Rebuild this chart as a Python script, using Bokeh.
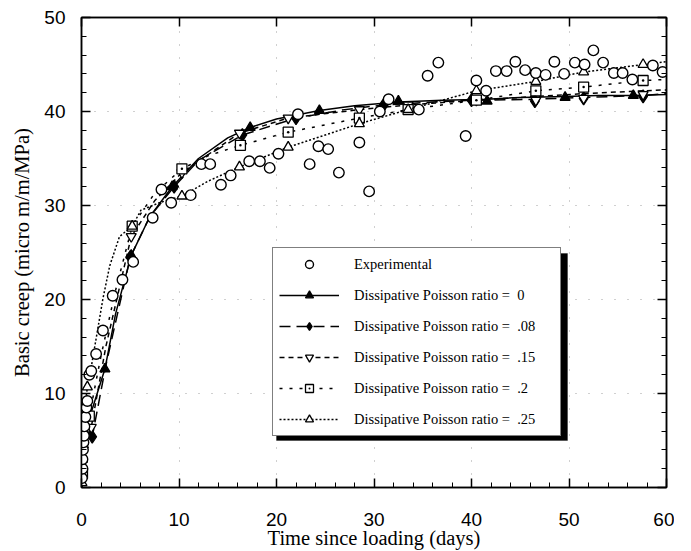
from bokeh.plotting import figure
from bokeh.models import (Legend, LegendItem, LinearAxis, SingleIntervalTicker, Range1d,
                          BoxAnnotation, CustomJSTickFormatter)
from bokeh.embed import file_html
from bokeh.resources import INLINE

# Experimental data
t_exp = [0.05, 0.1, 0.1, 0.15, 0.2, 0.25, 0.3, 0.4, 0.5, 0.6, 0.8, 1.0, 1.5, 2.2, 3.2, 4.2, 5.3, 7.3,
         8.2, 9.2, 11.2, 12.3, 13.2, 14.3, 15.3, 17.2, 18.3, 19.3, 20.2, 22.2, 23.4, 24.3, 25.3, 26.4,
         28.5, 29.5, 30.6, 31.5, 34.6, 35.5, 36.6, 39.4, 40.5, 41.5, 42.5, 43.6, 44.5, 45.5, 46.6,
         47.6, 48.5, 49.5, 50.6, 51.6, 52.5, 53.5, 54.6, 55.5, 56.5, 58.6, 59.6]
y_exp = [1.0, 2.0, 3.0, 4.0, 4.8, 5.5, 6.5, 7.5, 8.5, 9.2, 12.0, 12.4, 14.2, 16.7, 20.4, 22.1, 24.0, 28.7,
         31.7, 30.3, 31.1, 34.4, 34.4, 32.2, 33.2, 34.7, 34.7, 34.0, 35.5, 39.7, 34.4, 36.3, 36.0, 33.5,
         36.7, 31.5, 40.0, 41.3, 40.2, 43.8, 45.2, 37.4, 43.3, 42.2, 44.3, 44.3, 45.3, 44.4, 44.1,
         43.9, 45.3, 44.0, 45.2, 45.0, 46.5, 45.2, 44.1, 44.1, 43.4, 44.9, 44.2]

# Dissipative Poisson ratio = 0
t_line_0 = [0, 0.1, 0.3, 1, 2.4, 3.5, 5.1, 7, 9.3, 12, 15, 17.3, 20, 24.4, 28, 32.5, 37, 41.6, 45, 49.6, 53, 56.6, 60]
y_line_0 = [0, 3, 6, 8, 12.6, 18.5, 24.7, 28.8, 32, 35, 37.2, 38.3, 39.2, 40.1, 40.6, 41.0, 41.2, 41.3, 41.5, 41.6, 41.7, 41.7, 41.8]
t_mark_0 = [0.1, 0.3, 2.4, 5.1, 9.3, 17.3, 24.4, 32.5, 41.6, 49.6, 56.6]
y_mark_0 = [3, 6, 12.6, 24.7, 32, 38.3, 40.1, 41.1, 41.1, 41.5, 41.7]

# Dissipative Poisson ratio = .08
t_line_08 = [0, 0.2, 1.1, 2.5, 5, 7, 9.5, 12, 16.5, 22, 27, 31, 36, 40, 46.5, 51.5, 57.6, 60]
y_line_08 = [0, 4, 5.4, 13, 24.5, 28.8, 32, 34.8, 37.5, 39.3, 40.2, 40.7, 41.0, 41.2, 41.3, 41.5, 41.7, 41.9]
t_mark_08 = [0.2, 1.1, 5, 9.5, 16.5, 22, 31, 40, 46.5, 51.5, 57.6]
y_mark_08 = [4, 5.4, 24.5, 32, 37.5, 39.3, 40.7, 41.2, 41.1, 41.4, 41.6]

# Dissipative Poisson ratio = .15
t_line_15 = [0, 0.2, 1.0, 2.5, 5.1, 7.5, 10.3, 16.2, 21.2, 28.5, 33.5, 40.5, 46.6, 51.5, 57.6, 60]
y_line_15 = [0, 4, 6.4, 15, 26.7, 30.5, 33.5, 37.7, 39.3, 40.2, 40.7, 41.2, 41.6, 41.9, 42.2, 42.3]
t_mark_15 = [0.2, 1.0, 5.1, 10.3, 16.2, 21.2, 28.5, 33.5, 40.5, 46.6, 51.5, 57.6]
y_mark_15 = [4, 6.4, 26.7, 33.5, 37.7, 39.3, 40.2, 40.7, 41.2, 41.2, 41.4, 41.8]

# Dissipative Poisson ratio = .2
t_line_2 = [0, 0.1, 0.8, 2, 3.5, 5.2, 7.5, 10.3, 13, 16.3, 21.2, 28.5, 33.5, 40.5, 46.6, 51.5, 57.6, 60]
y_line_2 = [0, 1.5, 7.6, 14, 21, 27.8, 31.3, 33.9, 35.3, 36.4, 37.8, 39.3, 40.2, 41.2, 42.2, 42.6, 43.3, 43.4]
t_mark_2 = [0.1, 0.8, 5.2, 10.3, 16.3, 21.2, 28.5, 33.5, 40.5, 46.6, 51.5, 57.6]
y_mark_2 = [1.5, 7.6, 27.8, 33.9, 36.4, 37.8, 39.3, 40.2, 41.2, 42.2, 42.6, 43.3]

# Dissipative Poisson ratio = .25
t_line_25 = [0, 0.05, 0.3, 0.6, 1, 2.2, 2.9, 3.9, 5.2, 6.1, 8, 10.3, 13, 16.2, 21.2, 28.5, 33.5, 40.5, 46.6, 51.5, 57.6, 60]
y_line_25 = [0, 0.5, 8, 10.7, 12.8, 20.1, 23.6, 26.7, 27.8, 29.5, 30.3, 31.0, 32.6, 34.1, 36.2, 38.7, 40.2, 42.2, 43.2, 44.2, 45.0, 45.3]
t_mark_25 = [0.05, 0.6, 5.2, 10.3, 16.2, 21.2, 28.5, 33.5, 40.5, 46.6, 51.5, 57.6]
y_mark_25 = [0.5, 10.7, 27.8, 31.0, 34.1, 36.2, 38.7, 40.2, 42.2, 43.2, 44.2, 45.0]

ratio_labels = ["0", ".08", ".15", ".2", ".25"]

SERIF = "Liberation Serif"
SANS = "Liberation Sans"

p = figure(frame_width=585, frame_height=470,
           x_range=Range1d(0, 60), y_range=Range1d(0, 50),
           output_backend="svg", toolbar_location=None,
           min_border_left=81, min_border_top=17, min_border_right=8, min_border_bottom=2,
           background_fill_color="white", border_fill_color="white")

p.xaxis.ticker = SingleIntervalTicker(interval=10, num_minor_ticks=5)
p.yaxis.ticker = SingleIntervalTicker(interval=10, num_minor_ticks=5)
p.xaxis.axis_label = "Time since loading (days)"
p.yaxis.axis_label = "Basic creep (micro m/m/MPa)"
for ax in (p.xaxis[0], p.yaxis[0]):
    ax.axis_label_text_font = SERIF
    ax.axis_label_text_font_size = "20.5px"
    ax.axis_label_text_font_style = "normal"
    ax.major_label_text_font = SANS
    ax.major_label_text_font_size = "19px"
    ax.major_tick_in = 9
    ax.major_tick_out = 0
    ax.minor_tick_in = 5
    ax.minor_tick_out = 0
    ax.axis_line_width = 1.5
    ax.major_tick_line_width = 1.5
    ax.axis_line_color = "black"
    ax.major_tick_line_color = "black"
    ax.minor_tick_line_color = "black"
    ax.major_label_text_color = "black"
    ax.axis_label_text_color = "black"
p.xaxis.major_label_standoff = 25
p.xaxis.axis_label_standoff = -2
p.yaxis.major_label_standoff = 16
p.yaxis.axis_label_standoff = 8

blank = CustomJSTickFormatter(code="return ''")
top_ax = LinearAxis(ticker=SingleIntervalTicker(interval=10, num_minor_ticks=0), formatter=blank)
right_ax = LinearAxis(ticker=SingleIntervalTicker(interval=10, num_minor_ticks=5), formatter=blank)
for ax in (top_ax, right_ax):
    ax.major_label_standoff = 0
    ax.major_tick_in = 9
    ax.major_tick_out = 0
    ax.minor_tick_in = 5
    ax.minor_tick_out = 0
    ax.axis_line_width = 1.5
    ax.major_tick_line_width = 1.5
p.add_layout(top_ax, "above")
p.add_layout(right_ax, "right")

p.grid.grid_line_color = "#777777"
p.grid.grid_line_dash = "1 12"
p.grid.grid_line_alpha = 0.7
p.outline_line_color = "black"
p.outline_line_width = 1.5

lw = 1.5

series = [
    (t_line_0, y_line_0, t_mark_0, y_mark_0, "solid", "triangle", "black", 10),
    (t_line_08, y_line_08, t_mark_08, y_mark_08, "11 6", "diamond", "black", 13),
    (t_line_15, y_line_15, t_mark_15, y_mark_15, "5 4", "inverted_triangle", "white", 10),
    (t_line_2, y_line_2, t_mark_2, y_mark_2, "3 7", "square_dot", "white", 10),
    (t_line_25, y_line_25, t_mark_25, y_mark_25, "2 2", "triangle", "white", 10),
]
model_items = []
for (tl, yl, tm, ym, dash, marker, fill, size), lab in zip(series, ratio_labels):
    rl = p.line(tl, yl, line_color="black", line_width=lw, line_dash=dash)
    rm = p.scatter(tm, ym, marker=marker, size=size, fill_color=fill,
                   line_color="black", line_width=1.3)
    model_items.append(LegendItem(
        label="Dissipative Poisson ratio =\u00a0\u00a0" + lab + "\u00a0" * 5,
        renderers=[rl, rm]))

r_exp = p.scatter(t_exp, y_exp, marker="circle", size=10.5, fill_color="white",
                  line_color="black", line_width=1.4)

# legend drop shadow (screen units, relative to the frame)
LEG_X, LEG_Y, LEG_W, LEG_H, SH = 191, 51, 291, 187, 4
shadow = BoxAnnotation(left=LEG_X + SH, right=LEG_X + LEG_W + SH,
                       bottom=LEG_Y - SH, top=LEG_Y + LEG_H - SH,
                       left_units="screen", right_units="screen",
                       bottom_units="screen", top_units="screen",
                       fill_color="black", fill_alpha=1.0, line_color="black")
p.add_layout(shadow)

legend = Legend(items=[LegendItem(label="Experimental", renderers=[r_exp])] + model_items,
                location=(LEG_X, LEG_Y))
legend.label_text_font = SERIF
legend.label_text_font_size = "14.5px"
legend.label_text_color = "black"
legend.glyph_width = 60
legend.glyph_height = 20
legend.label_height = 20
legend.spacing = 11
legend.label_standoff = 15
legend.padding = 6
legend.margin = 0
legend.border_line_color = "black"
legend.border_line_width = 1.5
legend.background_fill_color = "white"
legend.background_fill_alpha = 1.0
p.add_layout(legend)

open("out.html", "w").write(file_html(p, INLINE))
